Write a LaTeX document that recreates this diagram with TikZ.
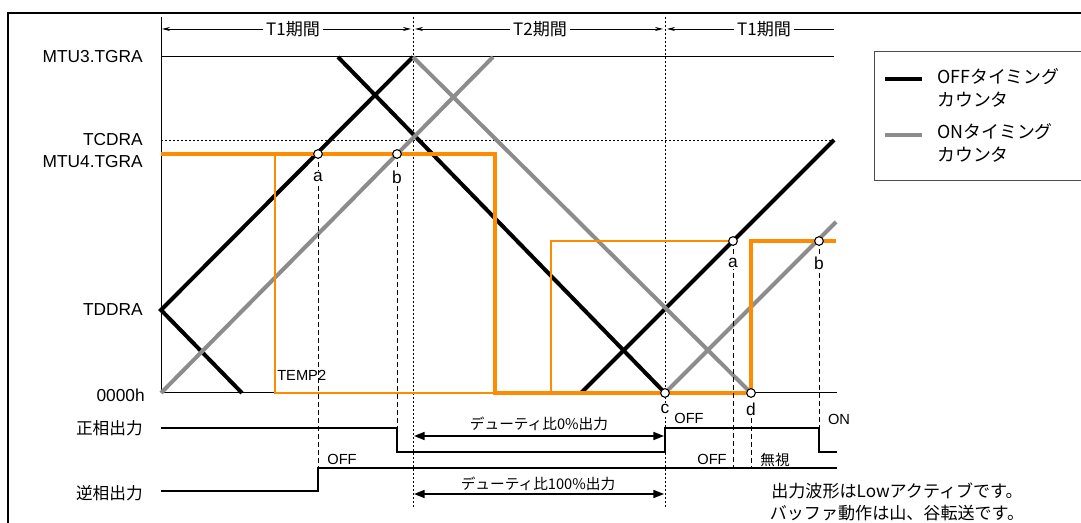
\documentclass[tikz,border=0pt]{standalone}
\usepackage{fontspec}
\setmainfont{Liberation Sans}
\newfontfamily\jpfont{Noto Sans CJK JP}
\usetikzlibrary{arrows.meta}
\definecolor{pwmorange}{RGB}{255,140,0}
\definecolor{oncolor}{RGB}{140,140,140}
\tikzstyle{axistext} = [anchor=east, inner sep=0pt, font=\fontsize{13}{15}\selectfont]
\tikzstyle{jpaxis} = [anchor=east, inner sep=0pt, font=\jpfont\fontsize{12.5}{15}\selectfont]
\tikzstyle{pointtext} = [fill=white, inner sep=1pt, font=\fontsize{13}{15}\selectfont]
\tikzstyle{tag} = [inner sep=0pt, font=\fontsize{11}{13}\selectfont]
\tikzstyle{jptag} = [inner sep=0pt, font=\jpfont\fontsize{11}{13}\selectfont]
\tikzstyle{jptext} = [inner sep=0pt, font=\jpfont\fontsize{12.8}{17}\selectfont]
\tikzstyle{legtext} = [inner sep=0pt, anchor=west, align=left, font=\jpfont\fontsize{13.4}{17.2}\selectfont]
\tikzstyle{period} = [fill=white, inner sep=2pt, font=\jpfont\fontsize{12.8}{15}\selectfont]
\tikzstyle{offcnt} = [line width=3pt, black]
\tikzstyle{oncnt} = [line width=3pt, oncolor]
\tikzstyle{orthick} = [line width=2.6pt, pwmorange]
\tikzstyle{orthin} = [line width=0.8pt, pwmorange]
\tikzstyle{sig} = [line width=1.5pt]
\tikzstyle{guide} = [line width=0.7pt, dash pattern=on 1.5pt off 1.5pt]
\tikzstyle{cut} = [line width=0.7pt, dash pattern=on 3.5pt off 2.5pt]
\tikzstyle{hollow} = [circle, draw, fill=white, line width=0.8pt, inner sep=0pt, minimum size=6.5pt]
\tikzstyle{span} = [line width=0.6pt]
\tikzstyle{duty} = [line width=1.2pt, {Triangle[length=8pt,width=6pt]}-{Triangle[length=8pt,width=6pt]}]

\begin{document}
\begin{tikzpicture}[x=0.75pt, y=-0.75pt, >={Stealth[length=6pt,width=3pt]}]
\useasboundingbox (0,0) rectangle (1081,523);
\draw[line width=1.5pt] (8,530) -- (8,13) -- (1090,13);

\coordinate (a1) at (318,154);
\coordinate (b1) at (397,154);
\coordinate (a2) at (733,241);
\coordinate (b2) at (819,241);
\coordinate (c) at (665,393);
\coordinate (d) at (751,393);

\node (tgra3) [axistext] at (143,57) {MTU3.TGRA};
\node (tcdra) [axistext] at (143,140) {TCDRA};
\node (tgra4) [axistext] at (143,162) {MTU4.TGRA};
\node (tddra) [axistext] at (143,310) {TDDRA};
\node (zero) [axistext] at (145,395) {0000h};
\node (pos) [jpaxis] at (143,428) {正相出力};
\node (neg) [jpaxis] at (143,493) {逆相出力};

\draw[line width=0.75pt] (161,17) -- (161,393) -- (837,393);
\draw[line width=0.75pt] (161,57) -- (834,57);
\draw[guide] (161,140) -- (834,140);
\draw[guide] (413,17) -- (413,509);
\draw[guide] (665,17) -- (665,509);

\draw[span, <->] (162,29) -- (411,29);
\draw[span, <->] (415,29) -- (663,29);
\draw[span, <-] (667,29) -- (834,29);
\node (t1a) [period] at (293,29) {T1期間};
\node (t2) [period] at (540,29) {T2期間};
\node (t1b) [period] at (764,29) {T1期間};

\draw[offcnt] (242,393) -- (161,310) -- (413,57);
\draw[offcnt] (338,57) -- (c);
\draw[offcnt] (581,393) -- (834,140);
\draw[oncnt] (161,393) -- (493,57);
\draw[oncnt] (413,57) -- (d);
\draw[oncnt] (c) -- (836,222);

\draw[orthin] (275,154) -- (275,393) -- (495,393);
\draw[orthin] (551,393) -- (551,241) -- (a2);
\draw[orthick] (161,154) -- (495,154) -- (495,393) -- (d) -- (751,241) -- (836,241);

\draw[cut] (a1) -- (318,491);
\draw[cut] (b1) -- (397,452);
\draw[cut] (a2) -- (733,468);
\draw[cut] (b2) -- (819,428);
\draw[cut] (751,418) -- (751,468);

\node (la1) [pointtext] at (318,177) {a};
\node (lb1) [pointtext] at (397,177) {b};
\node (la2) [pointtext] at (733,263) {a};
\node (lb2) [pointtext] at (819,263) {b};
\node (lc) [pointtext] at (665,409) {c};
\node (ld) [pointtext] at (751,409) {d};

\node (pa1) [hollow] at (a1) {};
\node (pb1) [hollow] at (b1) {};
\node (pa2) [hollow] at (a2) {};
\node (pb2) [hollow] at (b2) {};
\node (pc) [hollow] at (c) {};
\node (pd) [hollow] at (d) {};

\node (temp) [tag, anchor=west] at (277,375) {TEMP2};

\draw[sig] (161,428) -- (397,428) -- (397,452) -- (665,452) -- (665,428) -- (819,428) -- (819,452) -- (837,452);
\draw[sig] (161,491) -- (318,491) -- (318,468) -- (837,468);

\draw[duty] (414,436) -- (664,436);
\draw[duty] (414,494) -- (664,494);
\node (d0) [jptag] at (539,424) {デューティ比0\%出力};
\node (d100) [jptag] at (538,484) {デューティ比100\%出力};

\node (off1) [tag] at (342,459) {OFF};
\node (off2) [tag] at (689,418) {OFF};
\node (on) [tag] at (839,419) {ON};
\node (off3) [tag] at (712,459) {OFF};
\node (ign) [jptag] at (775,460) {無視};

\node (note1) [jptext] at (897,491) {出力波形はLowアクティブです。};
\node (note2) [jptext] at (897,513) {バッファ動作は山、谷転送です。};

\draw[line width=0.75pt, black!70] (874,52) rectangle (1090,181);
\draw[offcnt] (885,79) -- (922,79);
\draw[oncnt] (885,135) -- (922,135);
\node (leg1) [legtext] at (937,88) {OFFタイミング\\カウンタ};
\node (leg2) [legtext] at (937,143) {ONタイミング\\カウンタ};
\end{tikzpicture}
\end{document}
